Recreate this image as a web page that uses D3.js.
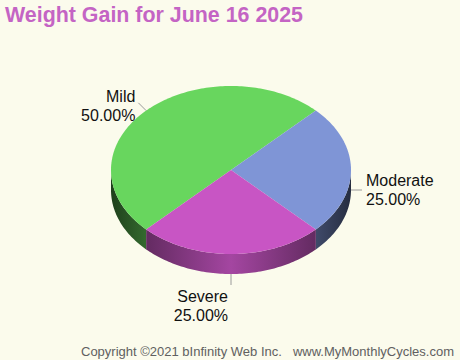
<!DOCTYPE html>
<html><head><meta charset="utf-8">
<script src="https://cdn.jsdelivr.net/npm/d3@7"></script>
<style>html,body{margin:0;padding:0;background:#fbfbec;}svg{display:block;}</style>
</head><body>
<svg id="c" width="460" height="360"></svg>
<script>
const title = "Weight Gain for June 16 2025";
const categories = ["Mild", "Moderate", "Severe"];
const values = [50, 25, 25];
const colors = ["#68d65e", "#7f95d6", "#c855c4"];
const footerLeft = "Copyright \u00a92021 bInfinity Web Inc.";
const footerRight = "www.MyMonthlyCycles.com";

const svg = d3.select("#c");
const W = 460, H = 360;
svg.append("rect").attr("width", W).attr("height", H).attr("fill", "#fbfbec");

const cx = 231, cy = 170, rx = 120, ry = 84, depth = 20;
const font = "'Liberation Sans', Arial, sans-serif";

const pie = d3.pie().sort(null).value(d => d)
  .startAngle(5 * Math.PI / 4).endAngle(5 * Math.PI / 4 + 2 * Math.PI);
const arcs = pie(values).map((a, i) => ({...a, i}));

const P = (t, dy = 0) => [cx + rx * Math.cos(t), cy + ry * Math.sin(t) + dy];
const toT = a => a - Math.PI / 2;

const defs = svg.append("defs");
colors.forEach((c, i) => {
  const base = d3.rgb(c);
  const g = defs.append("linearGradient").attr("id", "side" + i)
    .attr("gradientUnits", "userSpaceOnUse")
    .attr("x1", cx - rx).attr("x2", cx + rx).attr("y1", 0).attr("y2", 0);
  const sc = f => d3.rgb(base.r * f, base.g * f, base.b * f).formatHex();
  g.append("stop").attr("offset", "0%").attr("stop-color", sc(0.3));
  g.append("stop").attr("offset", "15%").attr("stop-color", sc(0.5));
  g.append("stop").attr("offset", "50%").attr("stop-color", sc(0.82));
  g.append("stop").attr("offset", "85%").attr("stop-color", sc(0.5));
  g.append("stop").attr("offset", "100%").attr("stop-color", sc(0.3));
});

function arcPts(t0, t1, dy) {
  const n = Math.max(2, Math.ceil(Math.abs(t1 - t0) / 0.02));
  const pts = [];
  for (let k = 0; k <= n; k++) pts.push(P(t0 + (t1 - t0) * k / n, dy));
  return pts;
}

// sides (front half: t in [0, PI] modulo 2PI)
const sideG = svg.append("g");
arcs.forEach(a => {
  let t0 = toT(a.startAngle), t1 = toT(a.endAngle);
  [0, 2 * Math.PI, -2 * Math.PI].forEach(off => {
    const s = Math.max(t0 + off, 0), e = Math.min(t1 + off, Math.PI);
    if (e > s) {
      const top = arcPts(s, e, 0);
      const bot = arcPts(e, s, depth);
      sideG.append("path")
        .attr("d", "M" + top.concat(bot).map(p => p.join(",")).join("L") + "Z")
        .attr("fill", `url(#side${a.i})`);
    }
  });
});

// top faces
const topG = svg.append("g");
arcs.forEach(a => {
  const pts = [[cx, cy]].concat(arcPts(toT(a.startAngle), toT(a.endAngle), 0));
  topG.append("path")
    .attr("d", "M" + pts.map(p => p.join(",")).join("L") + "Z")
    .attr("fill", colors[a.i]);
});

// labels
const lab = svg.append("g").attr("font-family", font).attr("font-size", 16).attr("fill", "#111");
arcs.forEach(a => {
  const t = toT((a.startAngle + a.endAngle) / 2);
  const front = Math.sin(t) >= -0.01;
  const p0 = P(t, front ? depth : 0);
  const L = 11;
  const p1 = [p0[0] + L * Math.cos(t), p0[1] + L * Math.sin(t)];
  svg.append("line").attr("x1", p0[0]).attr("y1", p0[1]).attr("x2", p1[0]).attr("y2", p1[1])
    .attr("stroke", "#9a9a9a").attr("stroke-width", 1);
  const pct = (a.value / d3.sum(values) * 100).toFixed(2) + "%";
  let x, y1, anchor;
  const c = Math.cos(t), s = Math.sin(t);
  if (Math.abs(c) > Math.abs(s)) {
    if (c > 0) { x = p1[0] + 4; anchor = "start"; y1 = p1[1] - 4; }
    else { x = p1[0] - 4; anchor = "end"; y1 = p1[1] - 4; }
  } else if (s > 0) {
    x = p1[0] - 3; anchor = "end"; y1 = p1[1] + 17;
  } else {
    x = p1[0] - 3; anchor = "end"; y1 = p1[1] - 1;
  }
  lab.append("text").attr("x", x).attr("y", y1).attr("text-anchor", anchor).text(categories[a.i]);
  lab.append("text").attr("x", x).attr("y", y1 + 18.7).attr("text-anchor", anchor).text(pct);
});

// title
svg.append("text").attr("x", 5).attr("y", 22).attr("font-family", font)
  .attr("font-weight", "bold").attr("font-size", 21.4).attr("fill", "#c464c4").text(title);

// footer
svg.append("text").attr("x", 81).attr("y", 356).attr("font-family", font)
  .attr("font-size", 13).attr("fill", "#606060").text(footerLeft);
svg.append("text").attr("x", 454).attr("y", 356).attr("text-anchor", "end").attr("font-family", font)
  .attr("font-size", 13).attr("fill", "#606060").text(footerRight);
</script>
</body></html>
